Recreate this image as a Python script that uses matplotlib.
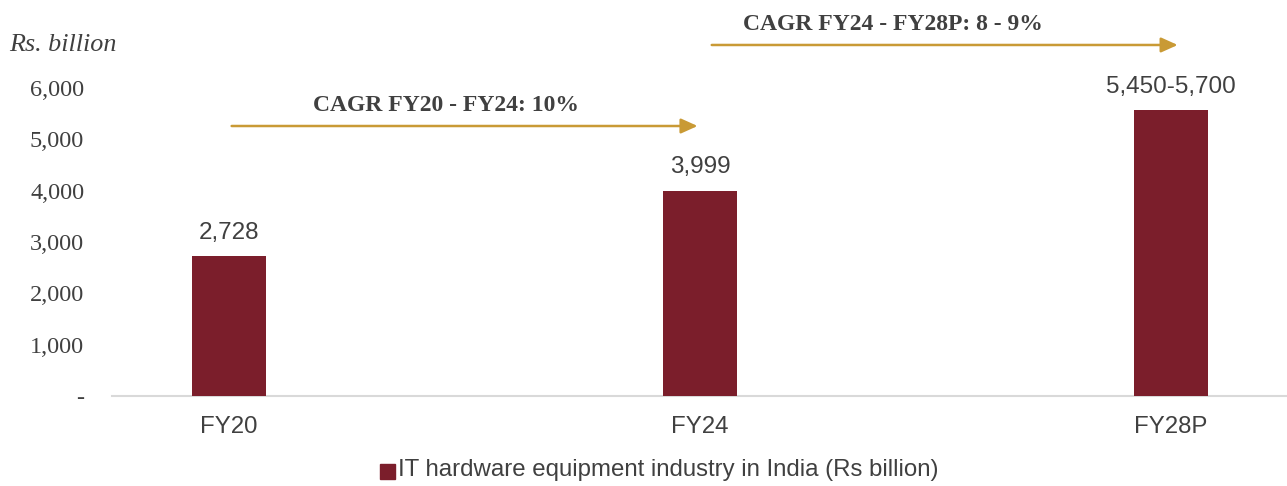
import matplotlib.pyplot as plt
from matplotlib.patches import Rectangle

# IT hardware equipment industry in India
years = ['FY20', 'FY24', 'FY28P']
values = [2728, 3999, 5575]
value_labels = ['2,728', '3,999', '5,450-5,700']
y_ticks = [0, 1000, 2000, 3000, 4000, 5000, 6000]
y_tick_labels = ['-', '1,000', '2,000', '3,000', '4,000', '5,000', '6,000']

bar_color = '#7B1E2B'
arrow_color = '#C99A35'
text_color = '#404040'

fig = plt.figure(figsize=(12.87, 4.86), dpi=100)
ax = fig.add_axes([0.087, 0.185, 0.913, 0.815])

x = range(len(years))
ax.bar(x, values, width=0.157, color=bar_color, zorder=3)

for xi, v, lab in zip(x, values, value_labels):
    ax.text(xi, v + 240, lab, ha='center', va='bottom', fontsize=17.5,
            family='Liberation Sans', color=text_color)

ax.set_xlim(-0.248, 2.246)
ax.set_ylim(0, 7714)

ax.set_xticks(list(x))
ax.set_xticklabels(years, fontsize=17.3, family='Liberation Sans', color=text_color)
ax.set_yticks(y_ticks)
ax.set_yticklabels(y_tick_labels, fontsize=17.5, family='Liberation Serif', color=text_color)
ax.tick_params(axis='both', length=0)
ax.tick_params(axis='x', pad=14)
ax.tick_params(axis='y', pad=20)

for s in ['top', 'right', 'left']:
    ax.spines[s].set_visible(False)
ax.spines['bottom'].set_color('#D9D9D9')
ax.spines['bottom'].set_linewidth(1.5)

# CAGR arrows
arrow_kw = dict(arrowstyle='-|>,head_length=1.0,head_width=0.45', color=arrow_color,
                lw=1.8, shrinkA=0, shrinkB=0)
ax.annotate('', xy=(0.995, 5260), xytext=(0.006, 5260), arrowprops=arrow_kw)
ax.annotate('', xy=(2.014, 6838), xytext=(1.025, 6838), arrowprops=arrow_kw)
ax.text(0.46, 5460, 'CAGR FY20 - FY24: 10%', ha='center', va='bottom',
        fontsize=17, fontweight='bold', family='Liberation Serif', color=text_color)
ax.text(1.41, 7030, 'CAGR FY24 - FY28P: 8 - 9%', ha='center', va='bottom',
        fontsize=17, fontweight='bold', family='Liberation Serif', color=text_color)

fig.text(9 / 1287, 1 - 45 / 486, 'Rs. billion', ha='left', va='center', fontsize=18.8,
         style='italic', family='Liberation Serif', color=text_color)

# legend
fig.patches.append(Rectangle((380 / 1287, 1 - 479 / 486), 15 / 1287, 15 / 486,
                             transform=fig.transFigure, color=bar_color))
fig.text(398 / 1287, 1 - 470 / 486, 'IT hardware equipment industry in India (Rs billion)',
         ha='left', va='center', fontsize=17.3, family='Liberation Sans', color=text_color)

fig.savefig('out.png', dpi=100)
